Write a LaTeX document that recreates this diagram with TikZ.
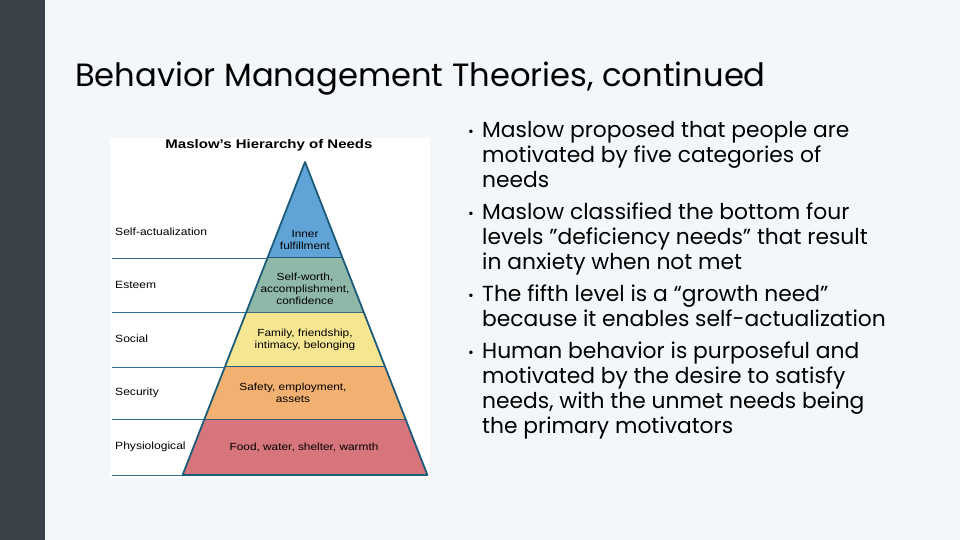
\documentclass[tikz,border=0pt]{standalone}
\usepackage{fontspec}
\setmainfont{Poppins}
\newfontfamily\arialfont[FakeStretch=1.15]{Liberation Sans}
\newfontfamily\arialwide[FakeStretch=1.2]{Liberation Sans}
\usetikzlibrary{calc,positioning}
\definecolor{slidebg}{RGB}{243,247,250}
\definecolor{sidebar}{RGB}{59,65,73}
\definecolor{edgeblue}{RGB}{28,92,122}
\definecolor{lineblue}{RGB}{50,112,148}
\definecolor{lvself}{RGB}{96,163,214}
\definecolor{lvesteem}{RGB}{143,184,168}
\definecolor{lvsocial}{RGB}{246,230,146}
\definecolor{lvsafety}{RGB}{242,177,112}
\definecolor{lvbody}{RGB}{214,118,124}

\begin{document}
\begin{tikzpicture}[x=1pt,y=-1pt,
  side/.style={font=\arialfont\fontsize{10.5}{12}\selectfont,anchor=west,inner sep=0},
  inlbl/.style={font=\arialfont\fontsize{10.3}{11.8}\selectfont,align=center,inner sep=0},
  bul/.style={font=\fontsize{21.8}{25}\selectfont,align=left,anchor=north west,inner sep=0},
  dot/.style={font=\fontsize{14}{14}\selectfont,inner sep=0},
]
\fill[slidebg] (0,0) rectangle (960,540);
\fill[sidebar] (0,0) rectangle (45,540);
\useasboundingbox (0,0) rectangle (960,540);
\node[anchor=base west,inner sep=0,font=\fontsize{32.2}{38}\selectfont] (title) at (75,87)
  {Behavior Management Theories, continued};

% pyramid figure
\fill[white] (110,138) rectangle (430,478);
\node[font=\arialwide\bfseries\fontsize{12.5}{13}\selectfont,inner sep=0] (figtitle) at (269,145)
  {Maslow’s Hierarchy of Needs};
\coordinate (apex) at (305,162);
\coordinate (bl) at (182.6,475);
\coordinate (br) at (427.4,475);
\coordinate (fl) at (112,0);
\foreach \ta/\tb/\col/\i in {0/0.307/lvself/1,0.307/0.482/lvesteem/2,0.482/0.655/lvsocial/3,
    0.655/0.824/lvsafety/4,0.824/1/lvbody/5}{
  \fill[\col] ($(apex)!\ta!(bl)$) -- ($(apex)!\tb!(bl)$) -- ($(apex)!\tb!(br)$) -- ($(apex)!\ta!(br)$) -- cycle;
  \coordinate (L\i) at ($(apex)!\tb!(bl)$);
  \coordinate (R\i) at ($(apex)!\tb!(br)$);
  \draw[lineblue,line width=1pt] (L\i -| fl) -- (L\i);
  \draw[edgeblue,line width=1.3pt] (L\i) -- (R\i);
}
\draw[edgeblue,line width=1.8pt,line join=round] (apex) -- (bl) -- (br) -- cycle;

\node[side] (sself) at (115,232) {Self-actualization};
\node[side] (sesteem) at (115,285) {Esteem};
\node[side] (ssocial) at (115,339) {Social};
\node[side] (ssafety) at (115,393) {Security};
\node[side] (sbody) at (115,447) {Physiological};

\node[inlbl] (iself) at (305,240) {Inner\\fulfillment};
\node[inlbl] (iesteem) at (305,289) {Self-worth,\\accomplishment,\\confidence};
\node[inlbl] (isocial) at (305,340) {Family, friendship,\\intimacy, belonging};
\node[inlbl] (isafety) at (293,393) {Safety, employment,\\assets};
\node[inlbl] (ibody) at (304,447) {Food, water, shelter, warmth};

% bullets
\node[bul] (b1) at (482,121) {Maslow proposed that people are\\motivated by five categories of\\needs};
\node[bul] (b2) at (482,203) {Maslow classified the bottom four\\levels ”deficiency needs” that result\\in anxiety when not met};
\node[bul] (b3) at (482,285) {The fifth level is a “growth need”\\because it enables self-actualization};
\node[bul] (b4) at (482,342) {Human behavior is purposeful and\\motivated by the desire to satisfy\\needs, with the unmet needs being\\the primary motivators};
\node[dot] (d1) at (471,133) {•};
\node[dot] (d2) at (471,215) {•};
\node[dot] (d3) at (471,297) {•};
\node[dot] (d4) at (471,354) {•};
\end{tikzpicture}
\end{document}
